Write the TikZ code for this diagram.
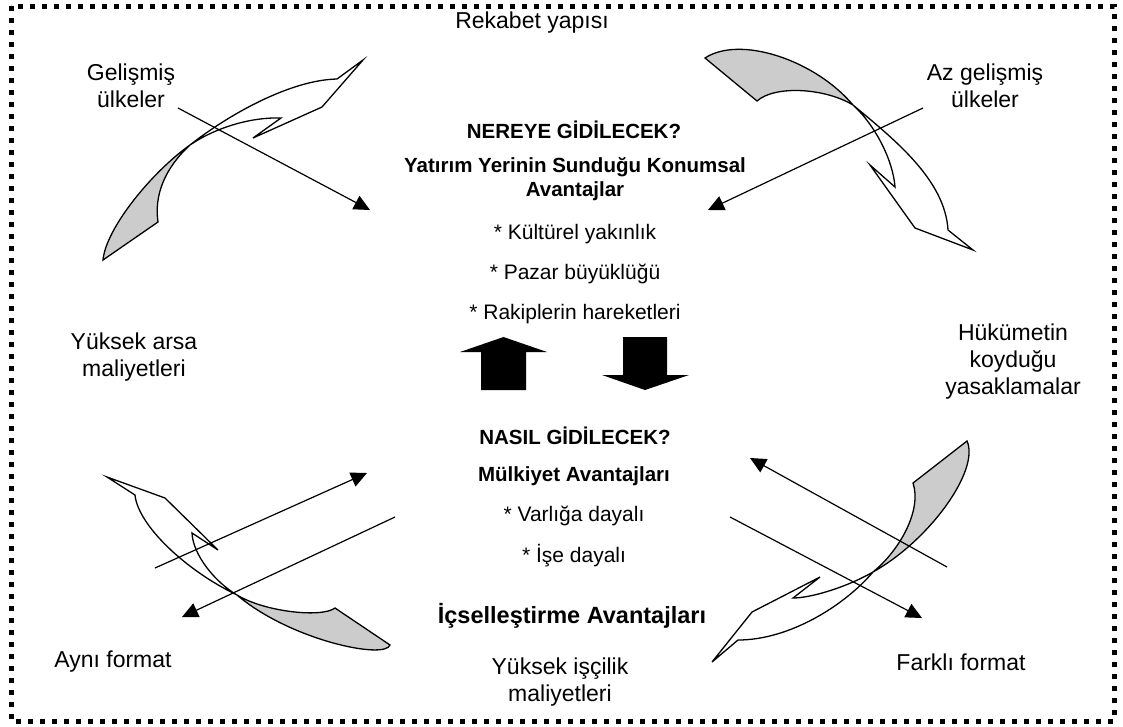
\documentclass[tikz,border=0pt]{standalone}
\usepackage{fontspec}
\setmainfont{Liberation Sans}
\usetikzlibrary{arrows.meta}

\begin{document}
\begin{tikzpicture}
  [x=1pt,y=-1pt,
   lbl/.style={align=center,inner sep=0pt,font=\fontsize{23}{27}\selectfont},
   txt/.style={inner sep=0pt,font=\fontsize{21}{25}\selectfont},
   hd/.style={align=center,inner sep=0pt,font=\bfseries\fontsize{20.5}{24}\selectfont},
   ribbon/.style={draw,line width=1.3pt,line join=miter},
   backside/.style={fill=black!20},
   link/.style={line width=1.2pt,-{Triangle[length=16pt,width=15pt]}}]
  \useasboundingbox (0,0) rectangle (1123,726);
  \draw[line width=5pt,dash pattern=on 5pt off 7pt] (11,6) rectangle (1114,721);

  % labels round the frame
  \node[lbl] (rek) at (532,23) {Rekabet yapısı};
  \node[lbl] (gel) at (131,86) {Gelişmiş\\ülkeler};
  \node[lbl] (azg) at (985,86) {Az gelişmiş\\ülkeler};
  \node[lbl] (arsa) at (134,357) {Yüksek arsa\\maliyetleri};
  \node[lbl] (huk) at (1013,362) {Hükümetin\\koyduğu\\yasaklamalar};
  \node[lbl] (ayni) at (113,662) {Aynı format};
  \node[lbl] (fark) at (961,662) {Farklı format};
  \node[lbl] (isci) at (560,682) {Yüksek işçilik\\maliyetleri};

  % centre text
  \node[hd] (nere) at (574,130) {NEREYE GİDİLECEK?};
  \node[hd] (yat) at (575,179) {Yatırım Yerinin Sunduğu Konumsal\\Avantajlar};
  \node[txt] (kul) at (575,234) {* Kültürel yakınlık};
  \node[txt] (paz) at (575,274) {* Pazar büyüklüğü};
  \node[txt] (rak) at (575,314) {* Rakiplerin hareketleri};
  \node[hd] (nas) at (575,436) {NASIL GİDİLECEK?};
  \node[hd] (mul) at (574,476) {Mülkiyet Avantajları};
  \node[txt] (var) at (574,516) {* Varlığa dayalı};
  \node[txt] (ise) at (574,556) {* İşe dayalı};
  \node[hd,font=\bfseries\fontsize{23.5}{28}\selectfont] (ics) at (572,616) {İçselleştirme Avantajları};

  % block arrows
  \fill (481,390) -- (481,352) -- (460,352) -- (503.5,337) -- (547,352) -- (526,352) -- (526,390) -- cycle;
  \fill (623,337) -- (667,337) -- (667,375) -- (689,375) -- (645,390) -- (602,375) -- (623,375) -- cycle;

  % twisted arrows
  \fill[backside] (103,260) .. controls (106,228) and (152,172) .. (190,145)
    .. controls (165,168) and (154,195) .. (158,222) -- cycle;
  \draw[ribbon] (103,260) .. controls (106,228) and (152,172) .. (190,145)
    .. controls (228,115) and (290,80) .. (337,79) -- (363,60) -- (322,107) -- (253,138) -- (281,118)
    .. controls (250,117) and (215,128) .. (190,145)
    .. controls (165,168) and (154,195) .. (158,222) -- cycle;

  \fill[backside] (705,58) .. controls (740,35) and (815,60) .. (853,105)
    .. controls (825,88) and (775,85) .. (757,101) -- cycle;
  \draw[ribbon] (705,58) .. controls (740,35) and (815,60) .. (853,105)
    .. controls (895,140) and (945,180) .. (948,230) -- (973,250) -- (915,228) -- (870,165) -- (895,187)
    .. controls (893,160) and (875,125) .. (853,105)
    .. controls (825,88) and (775,85) .. (757,101) -- cycle;

  \fill[backside] (237,595) .. controls (265,612) and (322,618) .. (335,608) -- (390,645)
    .. controls (385,660) and (290,640) .. (237,595) -- cycle;
  \draw[ribbon] (107,477) -- (165,498) -- (218,550) -- (192,533)
    .. controls (193,555) and (215,582) .. (237,595)
    .. controls (265,612) and (322,618) .. (335,608) -- (390,645)
    .. controls (385,660) and (290,640) .. (237,595)
    .. controls (185,570) and (138,525) .. (135,495) -- cycle;

  \fill[backside] (967,441) .. controls (980,470) and (930,540) .. (873,572)
    .. controls (900,550) and (922,510) .. (913,483) -- cycle;
  \draw[ribbon] (967,441) .. controls (980,470) and (930,540) .. (873,572)
    .. controls (845,588) and (810,598) .. (793,598) -- (820,577) -- (752,612) -- (712,662) -- (738,640)
    .. controls (790,640) and (845,605) .. (873,572)
    .. controls (900,550) and (922,510) .. (913,483) -- cycle;

  % straight arrows
  \coordinate (s1) at (178,108);  \coordinate (e1) at (370,210);
  \coordinate (s2) at (923,108);  \coordinate (e2) at (708,210);
  \coordinate (s3) at (155,568);  \coordinate (e3) at (367,473);
  \coordinate (s4) at (395,517);  \coordinate (e4) at (182,617);
  \coordinate (s5) at (947,567);  \coordinate (e5) at (750,458);
  \coordinate (s6) at (730,517);  \coordinate (e6) at (922,618);
  \foreach \from/\to in {s1/e1,s2/e2,s3/e3,s4/e4,s5/e5,s6/e6}
    \draw[link] (\from) -- (\to);
\end{tikzpicture}
\end{document}
